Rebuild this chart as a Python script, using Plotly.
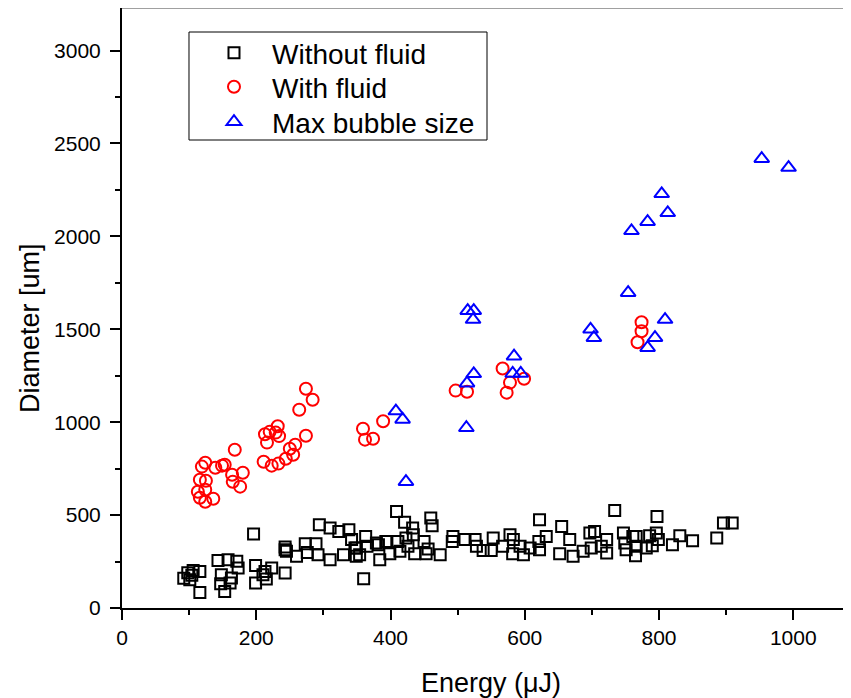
import plotly.graph_objects as go

# Without fluid (black squares)
wf_x = [92, 98, 101, 106, 116, 104, 116, 143, 148, 147, 153, 158, 163, 171, 173, 161,
        196, 199, 199, 213, 215, 223, 210, 243, 243, 245, 260,
        243, 273, 289, 292, 276, 294, 310, 310, 323, 330, 338, 342, 349, 354, 363, 365,
        360, 382, 384, 393, 399, 409, 411, 414, 421, 423, 433, 434, 436, 426, 450, 453,
        460, 462, 456, 474, 379, 349, 347,
        493, 492, 511, 526, 528, 538, 550, 553, 567, 578, 583, 593, 582, 598, 608, 622,
        622, 632, 621, 652, 655, 667, 672, 687, 699, 697, 704, 714, 722, 722, 734, 747,
        749, 751, 761, 766, 765, 766, 781, 786, 790, 796, 799, 797, 820, 831, 850, 886,
        896, 909]
wf_y = [160, 190, 152, 202, 197, 176, 84, 255, 179, 131, 89, 260, 161, 251, 215, 135,
        398, 229, 135, 197, 156, 215, 179, 188, 328, 305, 278,
        314, 346, 346, 287, 299, 448, 430, 260, 412, 287, 421, 368, 323, 287, 385, 332,
        158, 341, 260, 358, 292, 520, 358, 305, 461, 377, 430, 394, 292, 332, 358, 292,
        484, 443, 318, 287, 350, 278, 323,
        385, 358, 368, 368, 332, 310, 310, 377, 332, 394, 368, 332, 292, 287, 323, 314,
        475, 385, 358, 292, 439, 368, 278, 305, 323, 404, 412, 332, 296, 368, 525, 404,
        350, 314, 385, 385, 281, 332, 323, 389, 335, 404, 368, 493, 341, 389, 362, 377,
        457, 457]

# With fluid (red circles)
f_x = [113, 116, 124, 136, 124, 116, 125, 119, 124, 139, 149, 153, 164, 180, 165, 176, 168,
       213, 220, 232, 229, 216, 234,
       211, 223, 233, 244, 255, 250, 258,
       264, 274, 284, 274,
       359, 362, 374, 389,
       497, 514, 567, 578, 573, 599,
       774, 774, 768]
f_y = [626, 593, 572, 588, 637, 690, 685, 761, 782, 755, 766, 771, 717, 728, 679, 653, 852,
       935, 948, 978, 944, 890, 925,
       787, 766, 777, 803, 825, 857, 879,
       1067, 1180, 1121, 927,
       965, 906, 911, 1005,
       1170, 1164, 1289, 1213, 1159, 1234,
       1538, 1489, 1430]

# Max bubble size (blue triangles)
mb_x = [408, 418, 423, 513, 514, 524, 515, 524, 523, 584, 582, 594, 698, 703, 754,
        809, 794, 783, 953, 993, 804, 813, 783, 759]
mb_y = [1060, 1015, 680, 970, 1210, 1260, 1600, 1600, 1552, 1355, 1262, 1262, 1500, 1455, 1697,
        1552, 1455, 1401, 2418, 2370, 2229, 2127, 2079, 2030]

FONT = "Arial, Liberation Sans, sans-serif"

fig = go.Figure()
fig.add_trace(go.Scatter(x=wf_x, y=wf_y, mode="markers", name="Without fluid", legend="legend",
                         marker=dict(symbol="square-open", size=11, color="black",
                                     line=dict(width=2, color="black"))))
fig.add_trace(go.Scatter(x=f_x, y=f_y, mode="markers", name="With fluid", legend="legend2",
                         marker=dict(symbol="circle-open", size=12, color="#ff0000",
                                     line=dict(width=2, color="#ff0000"))))
fig.add_trace(go.Scatter(x=mb_x, y=mb_y, mode="markers", name="Max bubble size", legend="legend3",
                         marker=dict(symbol="triangle-up-open", size=13, color="#0000ff",
                                     line=dict(width=2, color="#0000ff"))))

leg_common = dict(x=0.1015, xanchor="left", yanchor="middle", bgcolor="rgba(0,0,0,0)",
                  borderwidth=0, font=dict(size=28, family=FONT, color="black"), itemwidth=66)

fig.update_layout(
    width=843, height=690,
    margin=dict(l=114, r=0, t=0, b=90),
    paper_bgcolor="white", plot_bgcolor="white",
    font=dict(family=FONT, color="black"),
    showlegend=True,
    legend=dict(y=0.925, **leg_common),
    legend2=dict(y=0.8683, **leg_common),
    legend3=dict(y=0.81, **leg_common),
    xaxis=dict(range=[0, 1086], tickvals=[0, 200, 400, 600, 800, 1000],
               showgrid=False, zeroline=False, showline=True, linecolor="black", linewidth=2,
               ticks="outside", ticklen=10, tickwidth=2, tickcolor="black",
               tickfont=dict(size=21, family=FONT), ticklabelstandoff=0,
               minor=dict(tickvals=[100, 300, 500, 700, 900], ticks="outside", ticklen=5,
                          tickwidth=2, tickcolor="black")),
    yaxis=dict(range=[0, 3229], tickvals=[0, 500, 1000, 1500, 2000, 2500, 3000],
               showgrid=False, zeroline=False, showline=True, linecolor="black", linewidth=2,
               ticks="outside", ticklen=10, tickwidth=2, tickcolor="black",
               tickfont=dict(size=21, family=FONT), ticklabelstandoff=5,
               minor=dict(tickvals=[250, 750, 1250, 1750, 2250, 2750], ticks="outside",
                          ticklen=5, tickwidth=2, tickcolor="black")),
)

# top frame line and legend box
fig.add_shape(type="line", xref="paper", yref="paper", x0=0, x1=1, y0=1, y1=1,
              line=dict(color="#808080", width=1.5))
fig.add_shape(type="rect", xref="paper", yref="paper", x0=0.0919, x1=0.5007, y0=0.78, y1=0.96,
              line=dict(color="black", width=1), fillcolor="white", layer="above")

fig.add_annotation(text="Energy (μJ)", xref="paper", yref="paper", x=0.506, y=-0.125,
                   xanchor="center", yanchor="middle", showarrow=False,
                   font=dict(size=27, family=FONT, color="black"))
fig.add_annotation(text="Diameter [um]", xref="paper", yref="paper", x=-0.1262, y=0.4667,
                   xanchor="center", yanchor="middle", textangle=-90, showarrow=False,
                   font=dict(size=27, family=FONT, color="black"))

fig.write_html("out.html")
